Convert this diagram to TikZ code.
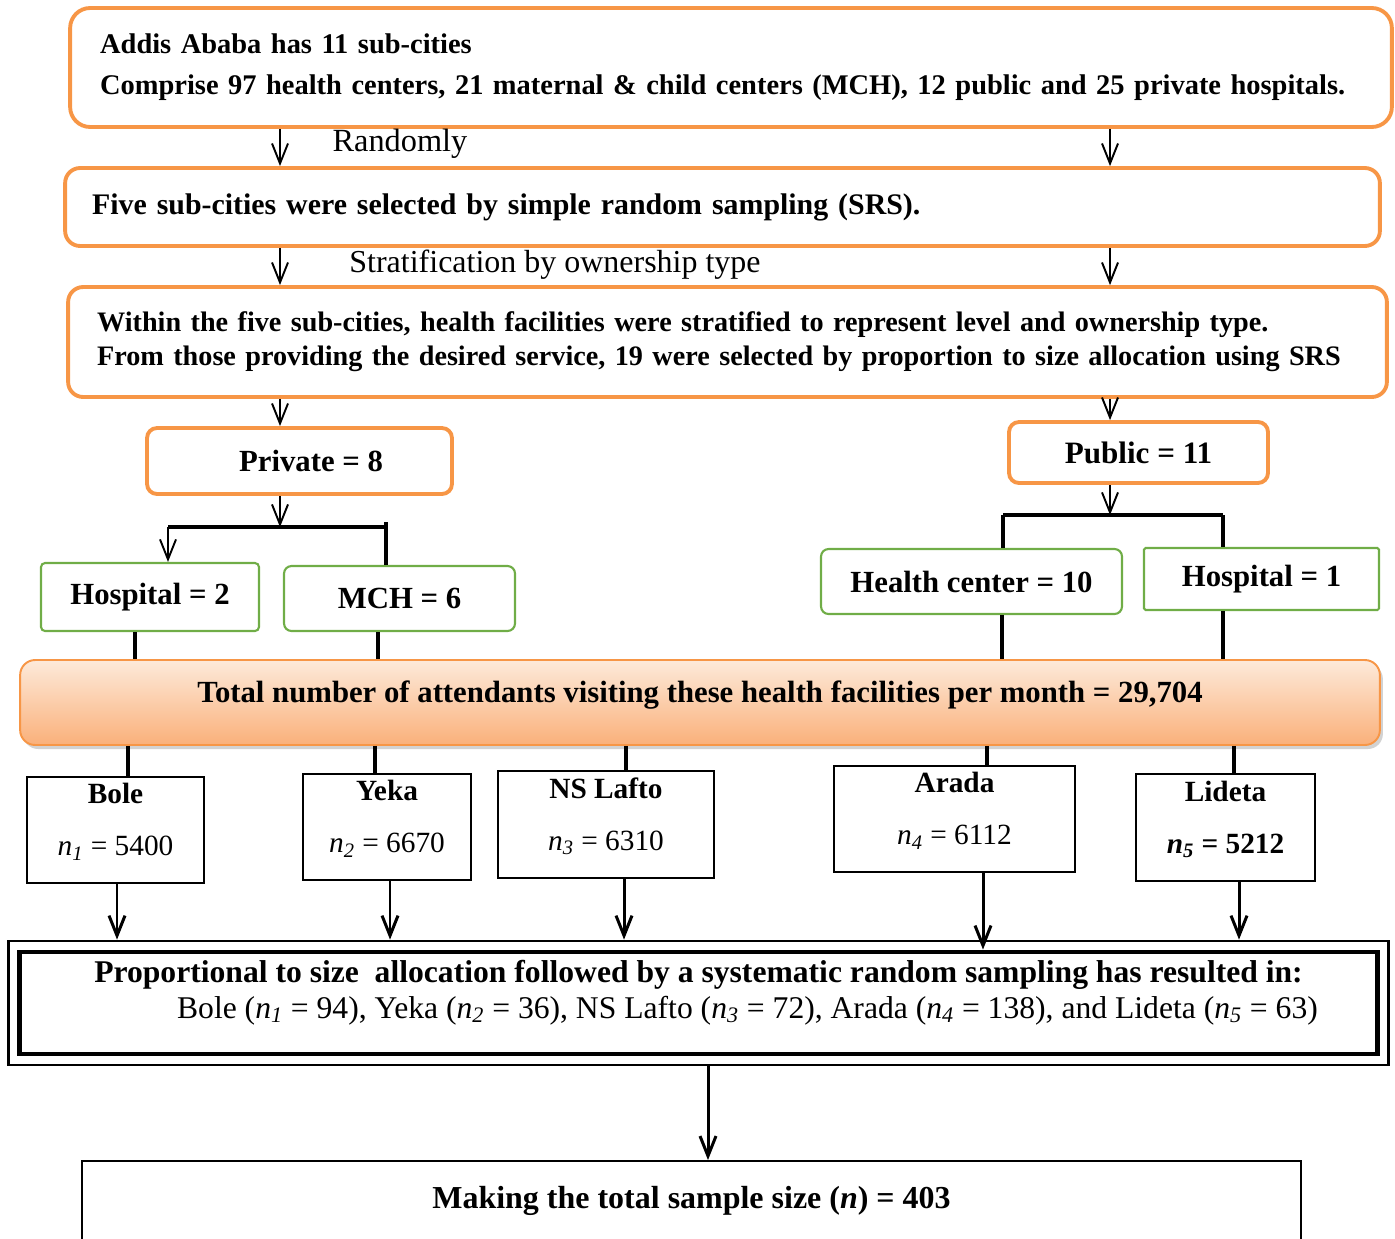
\documentclass[tikz,border=0pt]{standalone}
\usepackage{fontspec}
\setmainfont{Liberation Serif}
\usetikzlibrary{arrows.meta,shadows,positioning}
\definecolor{boxorange}{HTML}{F79646}
\definecolor{boxgreen}{HTML}{70AD47}
\definecolor{peachtop}{HTML}{FDEADA}
\definecolor{peachbot}{HTML}{FAB07A}
\newcommand{\nsub}[1]{\textit{n}\textsubscript{\textit{#1}}}

\begin{document}
\begin{tikzpicture}[x=0.02cm,y=-0.02cm,>={Straight Barb[length=0.4cm,width=0.32cm]},font=\fontsize{17.5}{21}\selectfont]
			\tikzstyle{obox}=[draw=boxorange,line width=2.2pt,rounded corners=0.3cm,inner sep=0pt,font=\fontsize{16.2}{23.3}\selectfont\bfseries]
			\tikzstyle{gbox}=[draw=boxgreen,line width=1.2pt,rounded corners=0.15cm,inner sep=0pt,font=\fontsize{17.5}{21}\selectfont\bfseries]
			\tikzstyle{cbox}=[draw=black,line width=1.1pt,inner sep=0pt,align=center,text depth=0.42cm,font=\fontsize{16.7}{29.6}\selectfont]
			\tikzstyle{arr}=[->,line width=1.1pt]
			\tikzstyle{bigarr}=[->,line width=1.7pt]
			\tikzstyle{brk}=[line width=2.3pt]
			\useasboundingbox (0,0) rectangle (1395,1238);
			% columns of the connectors
			\foreach \n/\x in {L/280,R/1110,hp/135,mc/378,hc/1002,ho/1223,bo/128,ye/375,ns/626,ar/987,li/1234,bo2/117,ye2/390,ns2/624,ar2/983,li2/1239,fin/708}
				\coordinate (c\n) at (\x,0);
			\coordinate (pvL) at (168,527);
			\coordinate (pvR) at (386,527);
			\coordinate (pbL) at (1003,515);
			\coordinate (pbR) at (1223,515);
			% sampling stages
			\node[obox,rounded corners=0.4cm,minimum width=26.44cm,minimum height=2.38cm,text width=25.24cm,align=left] (city) at (731,67.5)
				{Addis Ababa has 11 sub-cities\\Comprise 97 health centers, 21 maternal \& child centers (MCH), 12 public and 25 private hospitals.};
			\node[obox,minimum width=26.3cm,minimum height=1.56cm,text width=25.22cm,align=left,font=\fontsize{17}{20}\selectfont\bfseries] (srs) at (722.5,207)
				{Five sub-cities were selected by simple random sampling (SRS).};
			\node[obox,minimum width=26.38cm,minimum height=2.2cm,text width=25.22cm,align=left,font=\fontsize{16.05}{19.3}\selectfont\bfseries] (strat) at (727.5,342)
				{Within the five sub-cities, health facilities were stratified to represent level and ownership type.\\From those providing the desired service, 19 were selected by proportion to size allocation using SRS};
			\node[font=\fontsize{18.4}{22}\selectfont] (rand) at (400,144) {Randomly};
			\node[font=\fontsize{18.2}{22}\selectfont] (own) at (555,265) {Stratification by ownership type};
			% ownership
			\node[obox,rounded corners=0.2cm,minimum width=6.1cm,minimum height=1.32cm,font=\fontsize{17.5}{21}\selectfont\bfseries] (private) at (299.5,461) {\hspace*{0.46cm}Private = 8};
			\node[obox,rounded corners=0.2cm,minimum width=5.18cm,minimum height=1.22cm,font=\fontsize{17.7}{21}\selectfont\bfseries] (public) at (1138.5,452.5) {Public = 11};
			\node[gbox,rounded corners=0.08cm,minimum width=4.36cm,minimum height=1.36cm] (hosp2) at (150,597) {Hospital = 2};
			\node[gbox,minimum width=4.62cm,minimum height=1.3cm] (mch) at (399.5,598.5) {MCH = 6};
			\node[gbox,minimum width=6.02cm,minimum height=1.3cm] (hc) at (971.5,581.5) {Health center = 10};
			\node[gbox,rounded corners=0.03cm,minimum width=4.7cm,minimum height=1.24cm] (hosp1) at (1261.5,579) {Hospital = 1};
			% attendants
			\node[draw=boxorange,line width=1.1pt,rounded corners=0.3cm,top color=peachtop,bottom color=peachbot,drop shadow={shadow xshift=0.06cm,shadow yshift=-0.08cm,fill=black!35},
				minimum width=27.2cm,minimum height=1.7cm,inner sep=0pt,text depth=0.42cm,font=\fontsize{17.5}{21}\selectfont\bfseries] (total) at (700,702.5)
				{Total number of attendants visiting these health facilities per month = 29,704};
			% sub-cities
			\node[cbox,minimum width=3.54cm,minimum height=2.12cm] (bole) at (115.5,830) {\textbf{Bole}\\\nsub{1} = 5400};
			\node[cbox,minimum width=3.36cm,minimum height=2.12cm] (yeka) at (387,827) {\textbf{Yeka}\\\nsub{2} = 6670};
			\node[cbox,minimum width=4.32cm,minimum height=2.14cm] (lafto) at (606,824.5) {\textbf{NS Lafto}\\\nsub{3} = 6310};
			\node[cbox,minimum width=4.82cm,minimum height=2.12cm] (arada) at (954.5,819) {\textbf{Arada}\\\nsub{4} = 6112};
			\node[cbox,minimum width=3.58cm,minimum height=2.14cm] (lideta) at (1225.5,827.5) {\textbf{Lideta}\\\textbf{\nsub{5} = 5212}};
			% allocation
			\node[draw=black,line width=1.6pt,minimum width=27.62cm,minimum height=2.48cm] (allocout) at (698.5,1003) {};
			\node[draw=black,line width=2.8pt,minimum width=27.18cm,minimum height=2.04cm,inner sep=0pt,align=center,text depth=0.55cm,font=\fontsize{18}{20.5}\selectfont] (alloc) at (698.5,1003)
				{\textbf{Proportional to size\ \ allocation followed by a systematic random sampling has resulted in:}\\
				\hspace*{1.96cm}Bole (\nsub{1} = 94), Yeka (\nsub{2} = 36), NS Lafto (\nsub{3} = 72), Arada (\nsub{4} = 138), and Lideta (\nsub{5} = 63)};
			\node[draw=black,line width=1.1pt,minimum width=24.38cm,minimum height=1.6cm,font=\fontsize{18.2}{21}\selectfont\bfseries] (final) at (691.5,1201)
				{Making the total sample size (\textit{n}) = 403};
			% connectors
			\draw[arr] (city.south -| cL) -- (srs.north -| cL);
			\draw[arr] (city.south -| cR) -- (srs.north -| cR);
			\draw[arr] (srs.south -| cL) -- (strat.north -| cL);
			\draw[arr] (srs.south -| cR) -- (strat.north -| cR);
			\draw[arr] (strat.south -| cL) -- (private.north -| cL);
			\draw[arr] (strat.south -| cR) -- (public.north -| cR);
			\draw[arr] (private.south -| cL) -- (pvL -| cL);
			\draw[brk] (pvL) -- (pvR);
			\draw[arr] (pvL) -- (hosp2.north -| pvL);
			\draw[brk] ([yshift=0.1cm]pvR) -- (mch.north -| pvR);
			\draw[arr] (public.south -| cR) -- (pbL -| cR);
			\draw[brk] (pbL) -- (pbR);
			\draw[brk] (pbL) -- (hc.north -| pbL);
			\draw[brk] (pbR) -- (hosp1.north -| pbR);
			\draw[brk] (hosp2.south -| chp) -- (total.north -| chp);
			\draw[brk] (mch.south -| cmc) -- (total.north -| cmc);
			\draw[brk] (hc.south -| chc) -- (total.north -| chc);
			\draw[brk] (hosp1.south -| cho) -- (total.north -| cho);
			\draw[brk] (total.south -| cbo) -- (bole.north -| cbo);
			\draw[brk] (total.south -| cye) -- (yeka.north -| cye);
			\draw[brk] (total.south -| cns) -- (lafto.north -| cns);
			\draw[brk] (total.south -| car) -- (arada.north -| car);
			\draw[brk] (total.south -| cli) -- (lideta.north -| cli);
			\draw[bigarr] (bole.south -| cbo2) -- (allocout.north -| cbo2);
			\draw[bigarr] (yeka.south -| cye2) -- (allocout.north -| cye2);
			\draw[bigarr] (lafto.south -| cns2) -- (allocout.north -| cns2);
			\draw[bigarr] (arada.south -| car2) -- (alloc.north -| car2);
			\draw[bigarr] (lideta.south -| cli2) -- (allocout.north -| cli2);
			\draw[bigarr] (allocout.south -| cfin) -- (final.north -| cfin);
		\end{tikzpicture}
\end{document}
